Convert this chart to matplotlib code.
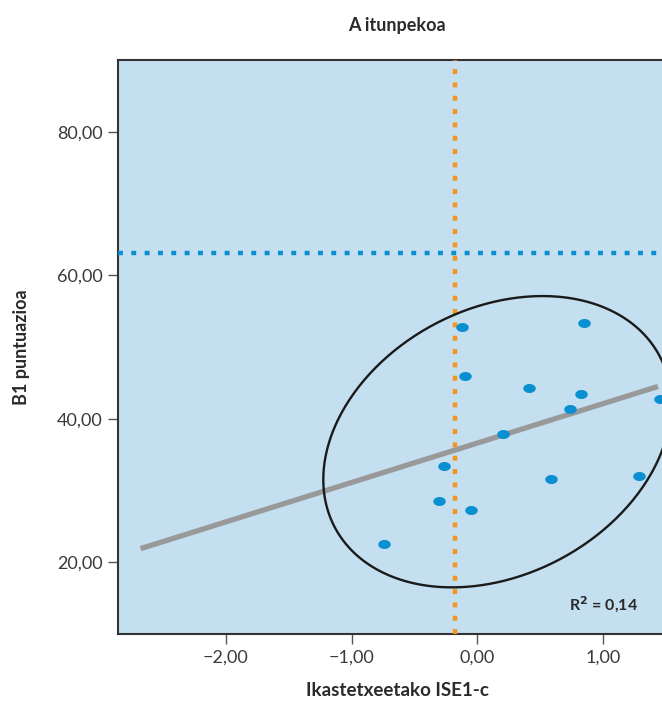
import numpy as np
import matplotlib
matplotlib.use("Agg")
import matplotlib.pyplot as plt
from matplotlib.path import Path

plt.rcParams['font.family'] = ['Lato', 'DejaVu Sans']

# school points (ISE1-c, B1 score)
ise = [-0.12, 0.85, -0.10, 0.41, 0.83, 0.74, 1.46, 0.21, -0.26, 0.59, 1.29, -0.30, -0.05, -0.74]
b1 = [52.8, 53.4, 45.9, 44.3, 43.4, 41.4, 42.8, 37.9, 33.4, 31.6, 32.0, 28.5, 27.3, 22.6]

# regression line endpoints
fit_x = [-2.68, 1.44]
fit_y = [21.9, 44.5]

mean_x = -0.18
mean_y = 63.1

# ellipse (center, half-ranges, phase)
ell_c = (0.16, 36.8)
ell_ax = 1.385
ell_ay = 20.3
ell_cos = 0.26

xticks = [-2, -1, 0, 1]
xticklabels = ['\u22122,00', '\u22121,00', '0,00', '1,00']
yticks = [20, 40, 60, 80]
yticklabels = ['20,00', '40,00', '60,00', '80,00']

W, H = 662, 704
fig = plt.figure(figsize=(W / 100, H / 100), dpi=100)
ax = fig.add_axes([118 / W, (H - 634) / H, (700 - 118) / W, (634 - 60) / H])
ax.set_facecolor('#c3dff0')
ax.set_xlim(-2.86, 1.775)
ax.set_ylim(10, 90)

# lines
ax.plot(fit_x, fit_y, color='#999999', lw=3.8, solid_capstyle='butt', zorder=2)
ax.axvline(mean_x, color='#f7941d', lw=3.2, dashes=(1.1, 1.9), dash_capstyle='butt', zorder=3)
ax.axhline(mean_y, color='#0a8fd0', lw=3.2, dashes=(1.1, 1.9), dash_capstyle='butt', zorder=4)

t = np.linspace(0, 2 * np.pi, 400)
phi = np.arccos(ell_cos)
ax.plot(ell_c[0] + ell_ax * np.cos(t), ell_c[1] + ell_ay * np.cos(t - phi),
        color='#1a1a1a', lw=1.7, zorder=5)

# elliptic markers
th = np.linspace(0, 2 * np.pi, 60)
mk = Path(np.column_stack([np.cos(th), 0.72 * np.sin(th)]), closed=True)
ax.plot(ise, b1, ls='none', marker=mk, markersize=9, color='#0a8fd0', mec='none', zorder=6)

ax.set_xticks(xticks)
ax.set_xticklabels(xticklabels)
ax.set_yticks(yticks)
ax.set_yticklabels(yticklabels)
ax.tick_params(axis='both', length=7, width=1, color='#555555', labelcolor='#3a3a3a',
               labelsize=13, pad=4)
for s in ax.spines.values():
    s.set_color('#333333')
    s.set_linewidth(1.5)

fig.text(397 / W, 1 - 25 / H, 'A itunpekoa', ha='center', va='center',
         fontsize=13, fontweight='bold', color='#2a2a2a')
fig.text(397 / W, 1 - 690 / H, 'Ikastetxeetako ISE1-c', ha='center', va='center',
         fontsize=13.5, fontweight='bold', color='#2a2a2a')
fig.text(22 / W, 1 - 347 / H, 'B1 puntuazioa', ha='center', va='center', rotation=90,
         fontsize=13, fontweight='bold', color='#2a2a2a')
fig.text(603 / W, 1 - 605 / H, 'R$^{\\mathbf{2}}$ = 0,14', ha='center', va='center',
         fontsize=11.5, fontweight='bold', color='#2a2a2a')

fig.savefig('out.png', dpi=100)
